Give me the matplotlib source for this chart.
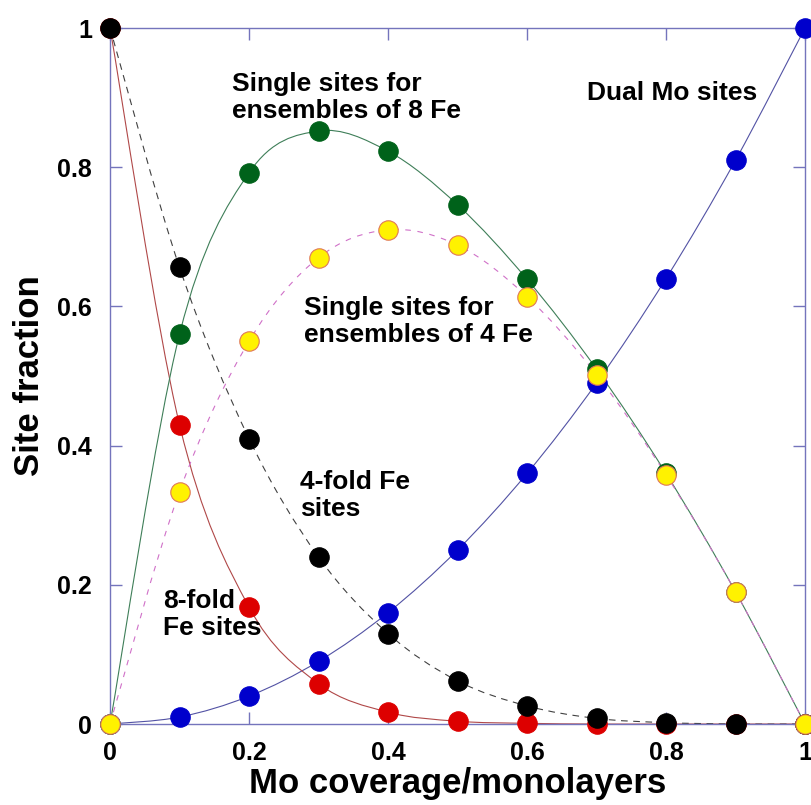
import numpy as np
import matplotlib.pyplot as plt
from matplotlib.path import Path
from matplotlib.patches import PathPatch

plt.rcParams['font.family'] = ['Liberation Sans', 'DejaVu Sans']
plt.rcParams['font.weight'] = 'bold'

# Mo coverage (monolayers)
coverage = [0.0, 0.1, 0.2, 0.3, 0.4, 0.5, 0.6, 0.7, 0.8, 0.9, 1.0]

# site fractions
fe8_fold = [1.0, 0.430, 0.168, 0.058, 0.017, 0.004, 0.001, 0.0, 0.0, 0.0, 0.0]
fe4_fold = [1.0, 0.656, 0.410, 0.240, 0.130, 0.062, 0.026, 0.008, 0.002, 0.0, 0.0]
dual_mo = [0.0, 0.01, 0.04, 0.09, 0.16, 0.25, 0.36, 0.49, 0.64, 0.81, 1.0]
single_8fe = [0.0, 0.560, 0.792, 0.852, 0.823, 0.746, 0.639, 0.510, 0.360, 0.190, 0.0]
single_4fe = [0.0, 0.334, 0.550, 0.670, 0.710, 0.688, 0.614, 0.502, 0.358, 0.190, 0.0]

spine_col = '#7474BC'


def smooth_path(x, y):
    # cubic bezier through the points (catmull-rom style handles)
    p = np.column_stack([x, y])
    verts = [p[0]]
    codes = [Path.MOVETO]
    n = len(p)
    for i in range(n - 1):
        p0 = p[i - 1] if i > 0 else p[i]
        p3 = p[i + 2] if i + 2 < n else p[i + 1]
        c1 = p[i] + (p[i + 1] - p0) / 6.0
        c2 = p[i + 1] - (p3 - p[i]) / 6.0
        verts += [c1, c2, p[i + 1]]
        codes += [Path.CURVE4] * 3
    return Path(verts, codes)


fig = plt.figure(figsize=(8.12, 8.05), dpi=100)
ax = fig.add_axes([0.1355, 0.1006, 0.8559, 0.8646])

curves = [
    (dual_mo, '#5252A4', '-', '#0000CC', '#0000CC'),
    (fe8_fold, '#B04848', '-', '#DD0000', '#DD0000'),
    (single_8fe, '#3E7E58', '-', '#00621A', '#00621A'),
    (fe4_fold, '#404040', (0, (6, 5)), '#000000', '#000000'),
    (single_4fe, '#D070C8', (0, (5, 6)), '#FFF200', '#E07858'),
]

for vals, lc, ls, fc, ec in curves:
    patch = PathPatch(smooth_path(coverage, vals), facecolor='none',
                      edgecolor=lc, linestyle=ls, linewidth=0.8)
    ax.add_patch(patch)

for vals, lc, ls, fc, ec in curves:
    ax.plot(coverage, vals, 'o', markersize=14, markerfacecolor=fc,
            markeredgecolor=ec, markeredgewidth=0.8, clip_on=False, zorder=5)

ax.set_xlim(0, 1)
ax.set_ylim(0, 1)
ticks = [0, 0.2, 0.4, 0.6, 0.8, 1]
labels = ['0', '0.2', '0.4', '0.6', '0.8', '1']
ax.set_xticks(ticks)
ax.set_xticklabels(labels)
ax.set_yticks(ticks)
ax.set_yticklabels(labels)
ax.tick_params(direction='in', length=8.5, width=1, color=spine_col,
               top=True, right=True, labelsize=18)
ax.tick_params(axis='x', pad=12)
ax.tick_params(axis='y', pad=13)
for s in ax.spines.values():
    s.set_color(spine_col)
    s.set_linewidth(1)

ax.set_xlabel('Mo coverage/monolayers', fontsize=25, fontweight='bold', labelpad=2)
ax.set_ylabel('Site fraction', fontsize=25, fontweight='bold', labelpad=8)

tkw = dict(fontsize=19, fontweight='bold', ha='left', va='baseline', linespacing=1.15)
ax.text(0.176, 0.871, 'Single sites for\nensembles of 8 Fe', **tkw)
ax.text(0.686, 0.896, 'Dual Mo sites', **tkw)
ax.text(0.279, 0.549, 'Single sites for\nensembles of 4 Fe', **tkw)
ax.text(0.273, 0.299, '4-fold Fe\nsites', **tkw)
ax.text(0.076, 0.128, '8-fold\nFe sites', **tkw)

fig.savefig('out.png', dpi=100)
